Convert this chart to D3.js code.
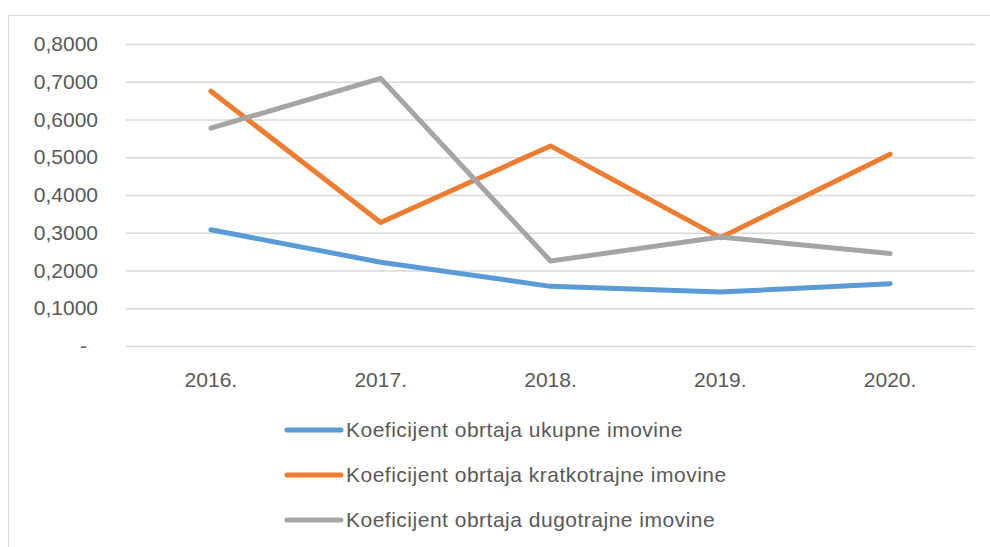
<!DOCTYPE html>
<html>
<head>
<meta charset="utf-8">
<script src="https://cdn.jsdelivr.net/npm/d3@7"></script>
<style>
  body { margin: 0; background: #fff; }
  text { font-family: "Liberation Sans", Arial, sans-serif; fill: #595959; }
</style>
</head>
<body>
<div id="chart"></div>
<script>
// data
const years = ["2016.", "2017.", "2018.", "2019.", "2020."];
const ukupne = [0.308, 0.222, 0.158, 0.143, 0.165];
const kratkotrajne = [0.675, 0.327, 0.530, 0.287, 0.508];
const dugotrajne = [0.577, 0.709, 0.225, 0.289, 0.245];
const seriesNames = [
    "Koeficijent obrtaja ukupne imovine",
    "Koeficijent obrtaja kratkotrajne imovine",
    "Koeficijent obrtaja dugotrajne imovine"
];
const yTicks = [0, 0.1, 0.2, 0.3, 0.4, 0.5, 0.6, 0.7, 0.8];

const width = 990, height = 547;
const margin = {top: 44, left: 126, right: 15, bottom: 201};
const colors = ["#5b9bd5", "#ed7d31", "#a5a5a5"];

const svg = d3.select("#chart")
    .append("svg")
    .attr("width", width)
    .attr("height", height);

// chart border (runs off the page on the right and bottom)
svg.append("rect")
    .attr("x", 8.5)
    .attr("y", 15.5)
    .attr("width", 1000)
    .attr("height", 600)
    .attr("fill", "none")
    .attr("stroke", "#d9d9d9");

const x = d3.scaleBand()
    .domain(years)
    .range([margin.left, width - margin.right]);

const y = d3.scaleLinear()
    .domain([0, 0.8])
    .range([height - margin.bottom, margin.top]);

// gridlines + y labels
const yAxis = svg.append("g")
    .attr("transform", `translate(${margin.left},0)`)
    .call(d3.axisLeft(y)
        .tickValues(yTicks)
        .tickSize(-(width - margin.left - margin.right))
        .tickPadding(28)
        .tickFormat(d => d === 0 ? "-" : d3.format(".4f")(d).replace(".", ",")));
yAxis.select(".domain").remove();
yAxis.selectAll(".tick line")
    .attr("stroke", "#d9d9d9")
    .attr("stroke-width", 1.5);
yAxis.selectAll(".tick text")
    .style("font-size", "21px")
    .attr("fill", "#595959")
    .attr("dx", d => d === 0 ? -11 : 0);

// x labels
const xAxis = svg.append("g")
    .attr("transform", `translate(0,${height - margin.bottom})`)
    .call(d3.axisBottom(x).tickSize(0).tickPadding(26));
xAxis.select(".domain").remove();
xAxis.selectAll(".tick text")
    .style("font-size", "21px")
    .attr("fill", "#595959");

// lines
const line = d3.line()
    .x((d, i) => x(years[i]) + x.bandwidth() / 2)
    .y(d => y(d));

[ukupne, kratkotrajne, dugotrajne].forEach((vals, i) => {
    svg.append("path")
        .datum(vals)
        .attr("fill", "none")
        .attr("stroke", colors[i])
        .attr("stroke-width", 5)
        .attr("stroke-linecap", "round")
        .attr("stroke-linejoin", "round")
        .attr("d", line);
});

// legend
const legend = svg.append("g")
    .attr("transform", "translate(287,430)");
seriesNames.forEach((name, i) => {
    legend.append("line")
        .attr("x1", 0)
        .attr("x2", 54)
        .attr("y1", i * 45)
        .attr("y2", i * 45)
        .attr("stroke", colors[i])
        .attr("stroke-width", 5)
        .attr("stroke-linecap", "round");
    legend.append("text")
        .attr("x", 59)
        .attr("y", i * 45)
        .attr("dy", "0.35em")
        .style("font-size", "21px")
        .style("letter-spacing", "0.5px")
        .text(name);
});
</script>
</body>
</html>
